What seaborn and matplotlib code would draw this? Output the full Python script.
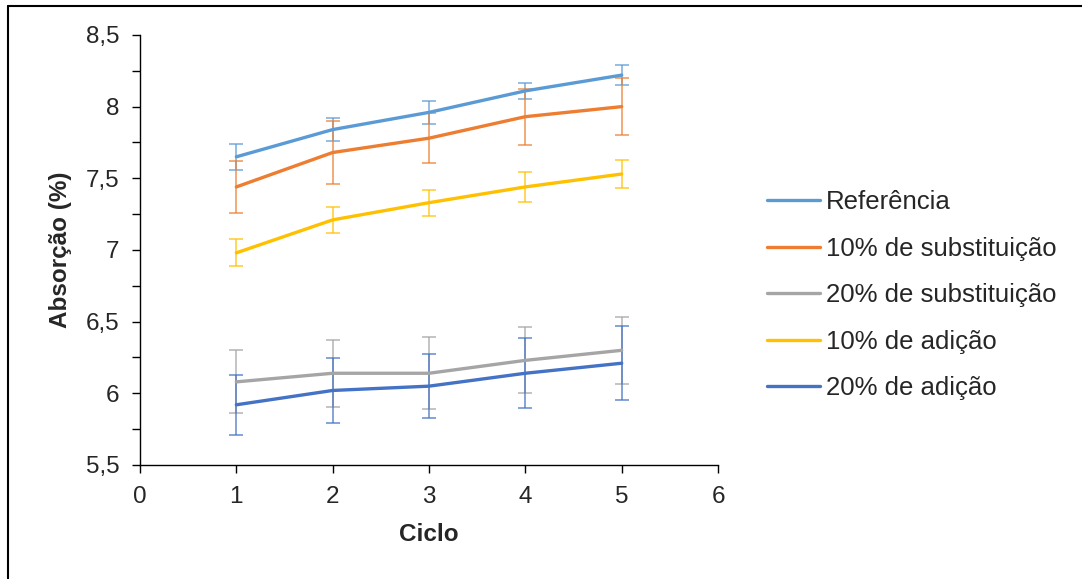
import numpy as np
import pandas as pd
import matplotlib
matplotlib.use('Agg')
import matplotlib.pyplot as plt
from matplotlib.lines import Line2D
from matplotlib.ticker import MultipleLocator, FuncFormatter
import seaborn as sns

ciclos = [1, 2, 3, 4, 5]
series = ['Referência', '10% de substituição', '20% de substituição',
          '10% de adição', '20% de adição']

referencia = [7.65, 7.84, 7.96, 8.11, 8.22]
subst_10 = [7.44, 7.68, 7.78, 7.93, 8.00]
subst_20 = [6.08, 6.14, 6.14, 6.23, 6.30]
adicao_10 = [6.98, 7.21, 7.33, 7.44, 7.53]
adicao_20 = [5.92, 6.02, 6.05, 6.14, 6.21]

err_ref = [0.09, 0.08, 0.08, 0.055, 0.07]
err_s10 = [0.18, 0.22, 0.175, 0.195, 0.20]
err_s20 = [0.22, 0.235, 0.25, 0.23, 0.235]
err_a10 = [0.095, 0.09, 0.09, 0.105, 0.095]
err_a20 = [0.21, 0.225, 0.225, 0.245, 0.26]

cores = ['#5B9BD5', '#ED7D31', '#A5A5A5', '#FFC000', '#4472C4']

valores = [referencia, subst_10, subst_20, adicao_10, adicao_20]
erros = [err_ref, err_s10, err_s20, err_a10, err_a20]

df = pd.DataFrame({
    'Ciclo': ciclos * len(series),
    'Absorção': np.concatenate(valores),
    'Serie': np.repeat(series, len(ciclos)),
})

sns.set_style('white')
plt.rcParams['font.family'] = ['Liberation Sans', 'DejaVu Sans']

fig = plt.figure(figsize=(10.82, 5.79), dpi=100)
ax = fig.add_axes([0.1294, 0.1969, 0.6636 - 0.1294, 0.9396 - 0.1969])

# barras de erro (mais claras)
for v, e, c in zip(valores, erros, cores):
    ax.errorbar(ciclos, v, yerr=e, fmt='none', ecolor=c, alpha=0.7,
                elinewidth=1.3, capsize=5, capthick=1.3, zorder=2)

sns.lineplot(data=df, x='Ciclo', y='Absorção', hue='Serie',
             hue_order=series, palette=cores, linewidth=2.4,
             legend=False, ax=ax, zorder=3)

ax.set_xlim(0, 6)
ax.set_ylim(5.5, 8.5)
ax.xaxis.set_major_locator(MultipleLocator(1))
ax.yaxis.set_major_locator(MultipleLocator(0.5))
ax.yaxis.set_minor_locator(MultipleLocator(0.25))
ax.yaxis.set_major_formatter(FuncFormatter(
    lambda v, p: ('%g' % v).replace('.', ',')))

for s in ['top', 'right']:
    ax.spines[s].set_visible(False)
for s in ['left', 'bottom']:
    ax.spines[s].set_color('#000000')
    ax.spines[s].set_linewidth(1.0)

ax.tick_params(axis='both', which='both', direction='out', length=6,
               width=1.0, color='#000000', labelsize=17.5, left=True,
               bottom=True)
ax.tick_params(axis='y', pad=9)
ax.tick_params(axis='x', pad=9)

ax.set_xlabel('Ciclo', fontsize=17.5, fontweight='bold', labelpad=11)
ax.set_ylabel('Absorção (%)', fontsize=17.5, fontweight='bold', labelpad=10)

handles = [Line2D([0], [0], color=c, lw=2.4) for c in cores]
ax.legend(handles, series, loc='center left', bbox_to_anchor=(1.085, 0.395),
          frameon=False, fontsize=18.5, handlelength=2.05, handletextpad=0.23,
          labelspacing=0.88, borderaxespad=0, borderpad=0)

# moldura da figura (lados visíveis)
fig.add_artist(Line2D([8 / 1082, 8 / 1082], [0, 1 - 6 / 579],
                      transform=fig.transFigure, color='black', lw=1.5))
fig.add_artist(Line2D([8 / 1082, 1], [1 - 6 / 579, 1 - 6 / 579],
                      transform=fig.transFigure, color='black', lw=1.5))

fig.savefig('out.png', dpi=100, facecolor='white')
